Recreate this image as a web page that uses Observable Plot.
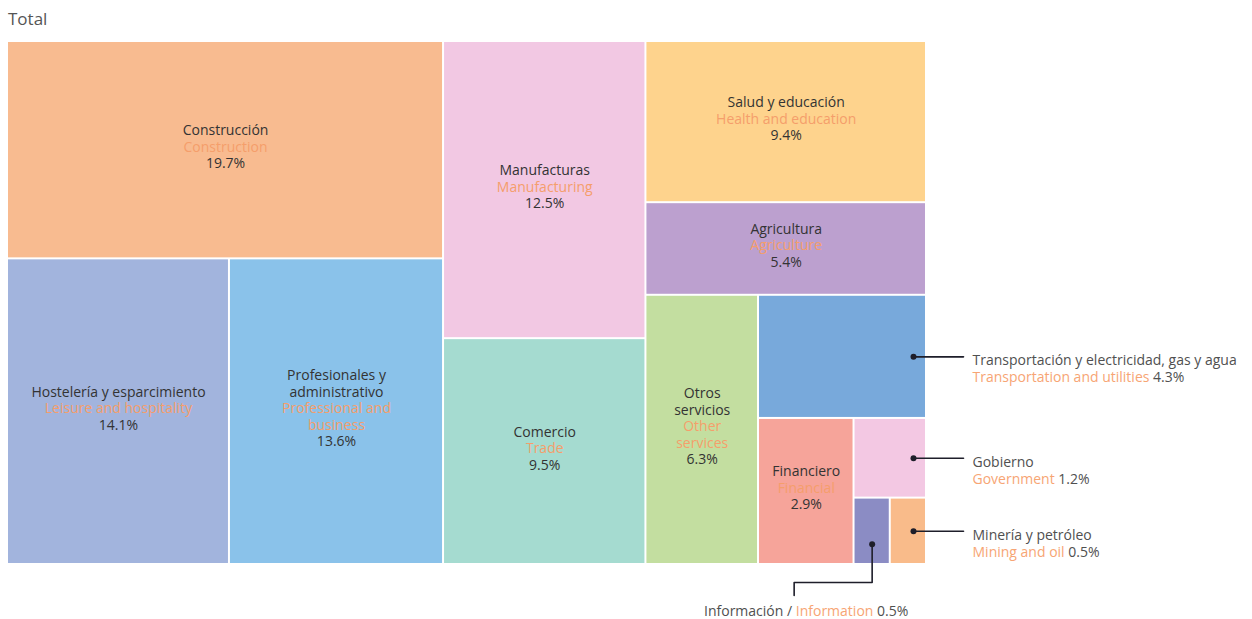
<!DOCTYPE html>
<html>
<head>
<meta charset="utf-8">
<script src="https://cdn.jsdelivr.net/npm/d3@7"></script>
<script src="https://cdn.jsdelivr.net/npm/@observablehq/plot@0.6"></script>
<style>
  body { margin: 0; background: #fff; font-family: "Open Sans", Lato, sans-serif; }
  #title { padding: 7px 0 0 8px; height: 23px; line-height: 23px; font-size: 17px; color: #555; }
  #chart svg { display: block; }
</style>
</head>
<body>
<div id="title">Total</div>
<div id="chart"></div>
<script>
// ---- data ----
const sectorsEs = [
  "Construcción", "Hostelería y esparcimiento", "Profesionales y\nadministrativo",
  "Manufacturas", "Comercio", "Salud y educación", "Agricultura", "Otros\nservicios",
  "Transportación y electricidad, gas y agua", "Financiero", "Gobierno",
  "Información", "Minería y petróleo"
];
const sectorsEn = [
  "Construction", "Leisure and hospitality", "Professional and\nbusiness",
  "Manufacturing", "Trade", "Health and education", "Agriculture", "Other\nservices",
  "Transportation and utilities", "Financial", "Government",
  "Information", "Mining and oil"
];
const shares = [19.7, 14.1, 13.6, 12.5, 9.5, 9.4, 5.4, 6.3, 4.3, 2.9, 1.2, 0.5, 0.5];
const colors = [
  "#f8bb90", "#a2b4dd", "#8ac2ea", "#f2c8e3", "#a5dbd0", "#fed38d", "#bca0cf",
  "#c3dea0", "#78a9db", "#f6a49a", "#f3c8e3", "#8b8cc4", "#f9bb8a"
];
// nesting of the tiles (indices into the arrays above)
const nesting = [[0, [1, 2]], [3, 4], [5, 6, [7, [8, [9, [10, [11, 12]]]]]]];
const calloutRight = [8, 10, 12];
const calloutBelow = [11];

// ---- layout ----
const width = 1252, height = 589;
const mL = 8, mR = 327, mT = 12, mB = 56;
const W = width - mL - mR, H = height - mT - mB;

const root = d3.hierarchy(nesting, d => Array.isArray(d) ? d : null)
  .sum(d => Array.isArray(d) ? 0 : shares[d]);
d3.treemap().tile(d3.treemapSliceDice).size([W, H]).paddingInner(2).round(false)(root);

const tiles = root.leaves().map(l => ({
  i: l.data, x0: l.x0, x1: l.x1, y0: l.y0, y1: l.y1,
  cx: (l.x0 + l.x1) / 2, cy: (l.y0 + l.y1) / 2, fill: colors[l.data]
}));

const FONT = "'Open Sans', Lato, sans-serif";
const FS = 14;
const ctx = document.createElement("canvas").getContext("2d");
ctx.font = FS + "px 'Open Sans'";
const tw = s => ctx.measureText(s).width;

const fmt = v => v.toFixed(1) + "%";
const dark = "#333333", orange = "#f59e6b", gray = "#505050", orangeOut = "#f7a574";
const LH = 16.5;

// labels inside tiles
const inner = [];
for (const t of tiles) {
  if (calloutRight.includes(t.i) || calloutBelow.includes(t.i)) continue;
  const lines = [];
  sectorsEs[t.i].split("\n").forEach(s => lines.push({text: s, color: dark}));
  sectorsEn[t.i].split("\n").forEach(s => lines.push({text: s, color: orange}));
  lines.push({text: fmt(shares[t.i]), color: dark});
  const n = lines.length;
  lines.forEach((ln, k) => inner.push({x: t.cx, y: t.cy - 3 + (k - (n - 1) / 2) * LH, ...ln}));
}

// callouts
const dots = [], leaders = [], outer = [];
for (const t of tiles) {
  if (calloutRight.includes(t.i)) {
    const dx = t.x1 - 12, dy = t.cy;
    dots.push({x: dx, y: dy});
    leaders.push({id: t.i, x: dx, y: dy}, {id: t.i, x: t.x1 + 38, y: dy});
    const lx = t.x1 + 47;
    outer.push({x: lx, y: dy + 4, text: sectorsEs[t.i], color: gray});
    outer.push({x: lx, y: dy + 21, text: sectorsEn[t.i], color: orangeOut});
    outer.push({x: lx + tw(sectorsEn[t.i] + " "), y: dy + 21, text: fmt(shares[t.i]), color: gray});
  }
  if (calloutBelow.includes(t.i)) {
    const dx = t.cx, dy = t.cy + 13;
    dots.push({x: dx, y: dy});
    const elbowY = H + 19, lineX = dx - 78;
    leaders.push({id: t.i, x: dx, y: dy}, {id: t.i, x: dx, y: elbowY},
                 {id: t.i, x: lineX, y: elbowY}, {id: t.i, x: lineX, y: H + 32});
    const ly = H + 48;
    const p1 = sectorsEs[t.i] + " / ";
    const full = p1 + sectorsEn[t.i] + " " + fmt(shares[t.i]);
    const sx = lineX + 12 - tw(full) / 2;
    outer.push({x: sx, y: ly, text: p1, color: gray});
    outer.push({x: sx + tw(p1), y: ly, text: sectorsEn[t.i], color: orangeOut});
    outer.push({x: sx + tw(p1 + sectorsEn[t.i] + " "), y: ly, text: fmt(shares[t.i]), color: gray});
  }
}

const chart = Plot.plot({
  width, height,
  marginLeft: mL, marginRight: mR, marginTop: mT, marginBottom: mB,
  style: {fontFamily: FONT, background: "#fff", overflow: "visible"},
  x: {domain: [0, W], axis: null},
  y: {domain: [0, H], reverse: true, axis: null},
  marks: [
    Plot.rect(tiles, {x1: "x0", x2: "x1", y1: "y0", y2: "y1", fill: d => d.fill}),
    Plot.text(inner, {x: "x", y: "y", text: "text", fill: d => d.color, fontSize: FS, textAnchor: "middle"}),
    Plot.line(leaders, {x: "x", y: "y", z: "id", stroke: "#1e1e2a", strokeWidth: 1.6}),
    Plot.dot(dots, {x: "x", y: "y", r: 3, fill: "#1e1e2a"}),
    Plot.text(outer, {x: "x", y: "y", text: "text", fill: d => d.color, fontSize: FS, textAnchor: "start"})
  ]
});
document.getElementById("chart").appendChild(chart);
</script>
</body>
</html>
